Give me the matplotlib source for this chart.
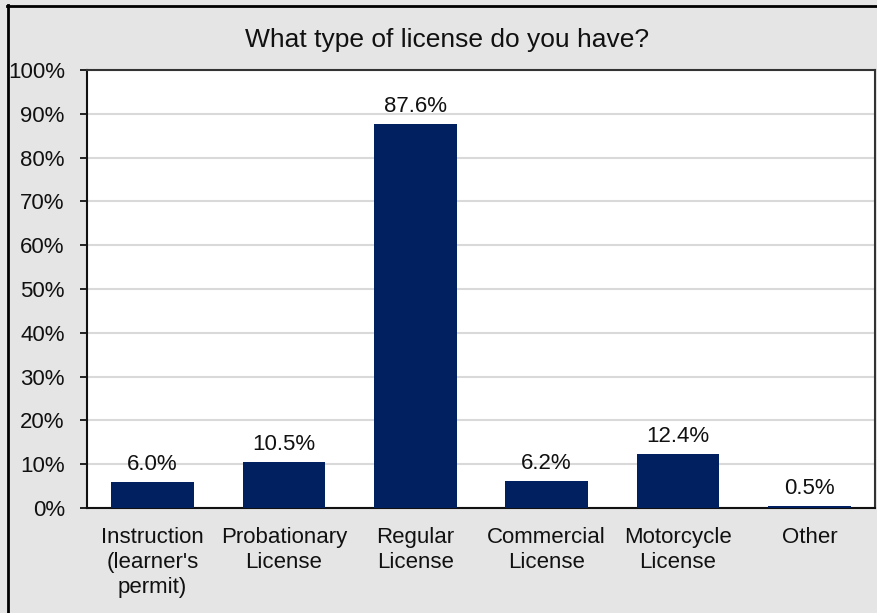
import matplotlib
matplotlib.use("Agg")
import matplotlib.pyplot as plt
from matplotlib.lines import Line2D
from matplotlib.ticker import FuncFormatter, MultipleLocator

plt.rcParams['font.family'] = ['Liberation Sans', 'DejaVu Sans']

categories = ["Instruction\n(learner's\npermit)", "Probationary\nLicense", "Regular\nLicense",
              "Commercial\nLicense", "Motorcycle\nLicense", "Other"]
shares = [6.0, 10.5, 87.6, 6.2, 12.4, 0.5]
title = "What type of license do you have?"

bar_color = "#002060"
bg_color = "#e5e5e5"
text_color = "#111111"

fig = plt.figure(figsize=(8.78, 6.13), dpi=100, facecolor=bg_color)
ax = fig.add_axes([87 / 878, 105 / 613, (875 - 87) / 878, (508 - 70) / 613])
ax.set_facecolor("white")

x = range(len(categories))
bars = ax.bar(x, shares, width=0.63, color=bar_color, zorder=3)
for rect, v in zip(bars, shares):
    ax.annotate(f"{v:.1f}%", (rect.get_x() + rect.get_width() / 2, v),
                xytext=(0, 12.5), textcoords="offset points",
                ha="center", va="center", fontsize=16, color=text_color)

ax.set_xlim(-0.5, len(categories) - 0.5)
ax.set_ylim(0, 100)
ax.yaxis.set_major_locator(MultipleLocator(10))
ax.yaxis.set_major_formatter(FuncFormatter(lambda v, p: f"{v:.0f}%"))
ax.grid(axis="y", color="#d9d9d9", linewidth=1.5, zorder=0)
ax.set_xticks(list(x))
ax.set_xticklabels(categories, fontsize=16, linespacing=1.25, color=text_color)
ax.tick_params(axis="x", length=0, pad=13.5)
ax.tick_params(axis="y", length=5, width=1.2, direction="out", labelsize=16,
               labelcolor=text_color, pad=11)
for side in ["left", "bottom", "top", "right"]:
    ax.spines[side].set_color("#111111")
    ax.spines[side].set_linewidth(1.5)
ax.spines["top"].set_color("#333333")
ax.spines["right"].set_color("#333333")

fig.text(447 / 878, 1 - 40 / 613, title, ha="center", va="center",
         fontsize=19, color=text_color)

# outer frame edges
fig.add_artist(Line2D([8 / 878, 8 / 878], [0, 1 - 5 / 613], transform=fig.transFigure,
                      color="black", linewidth=2))
fig.add_artist(Line2D([7 / 878, 1], [1 - 5.5 / 613, 1 - 5.5 / 613], transform=fig.transFigure,
                      color="black", linewidth=2))

fig.savefig("out.png", dpi=100, facecolor=bg_color)
